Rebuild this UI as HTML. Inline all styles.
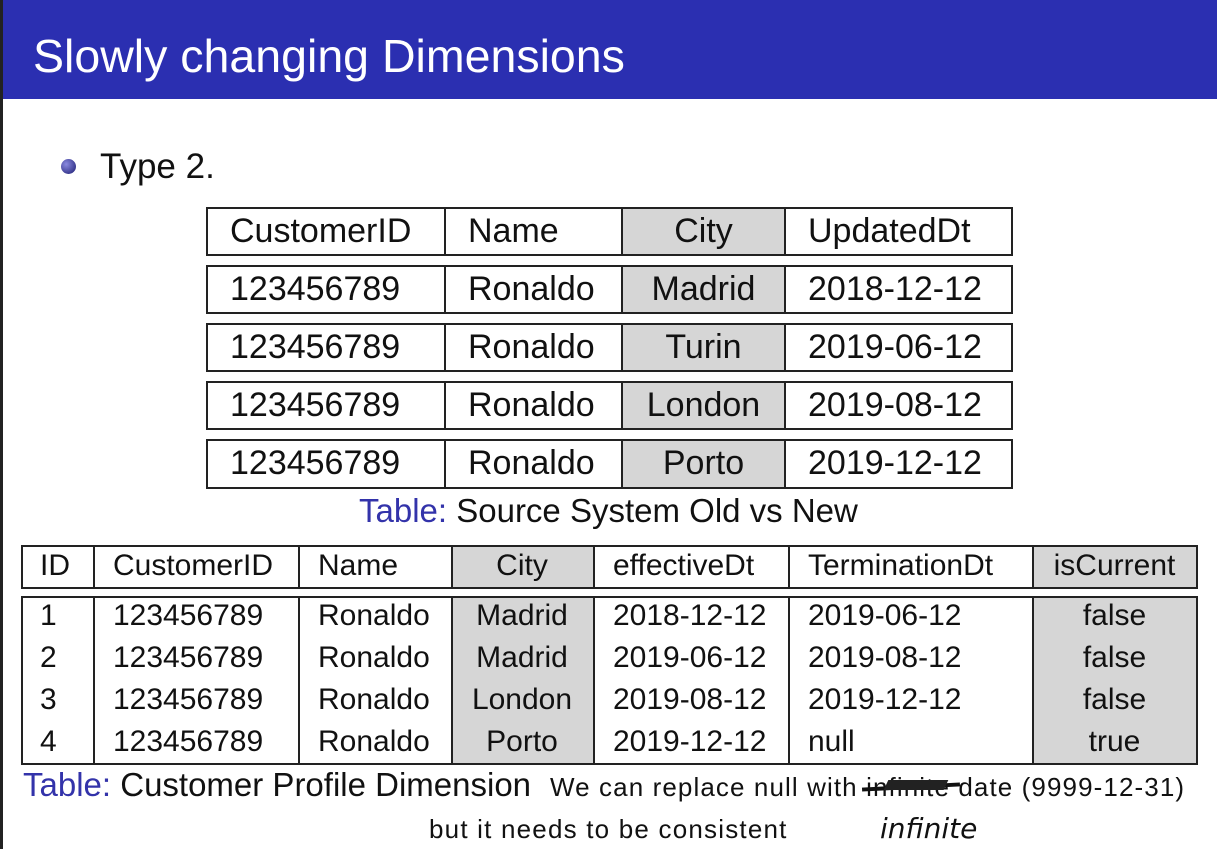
<!DOCTYPE html>
<html><head><meta charset="utf-8"><style>
body{margin:0;width:1217px;height:849px;background:#fff;position:relative;overflow:hidden;font-family:"Liberation Sans",sans-serif;color:#111}
.a{position:absolute;white-space:nowrap}
.bar{left:0;top:0;width:1217px;height:99px;background:#2b2fb1}
.edge{left:0;top:0;width:3px;height:849px;background:#222}
.box{position:absolute;border:2px solid #222;box-sizing:border-box;background:#fff}
.g{position:absolute;background:#d6d6d6}
.v{position:absolute;width:2px;background:#222}
.t1{position:absolute;font-size:34px;line-height:49px}
.t2{position:absolute;font-size:30px;line-height:44px}
</style></head><body>
<div class="a bar"></div>
<div class="a edge"></div>
<div class="a" style="left:33px;top:27px;font-size:46.5px;color:#fff;line-height:58px">Slowly changing Dimensions</div>
<div class="a" style="left:61px;top:159px;width:15px;height:15px;border-radius:50%;background:radial-gradient(circle at 35% 35%,#8a8ae0,#1a1a70)"></div>
<div class="a" style="left:100px;top:145px;font-size:35px;line-height:44px">Type 2.</div>

<script>
var rows=[["CustomerID","Name","City","UpdatedDt"],["123456789","Ronaldo","Madrid","2018-12-12"],["123456789","Ronaldo","Turin","2019-06-12"],["123456789","Ronaldo","London","2019-08-12"],["123456789","Ronaldo","Porto","2019-12-12"]];
var ys=[207,265,323,381,439];var h="";
rows.forEach(function(r,i){var y=ys[i],H=(i==4?50:49);
h+='<div class="box" style="left:206px;top:'+y+'px;width:807px;height:'+H+'px"></div>';
h+='<div class="g" style="left:622px;top:'+(y+2)+'px;width:162px;height:'+(H-4)+'px"></div>';
[444,621,784].forEach(function(x){h+='<div class="v" style="left:'+x+'px;top:'+y+'px;height:'+H+'px"></div>'});
h+='<div class="t1" style="left:230px;top:'+(y)+'px">'+r[0]+'</div>';
h+='<div class="t1" style="left:468px;top:'+(y)+'px">'+r[1]+'</div>';
h+='<div class="t1" style="left:623px;width:161px;text-align:center;top:'+(y)+'px">'+r[2]+'</div>';
h+='<div class="t1" style="left:808px;top:'+(y)+'px">'+r[3]+'</div>';});
document.write(h);
</script>
<div class="a" style="left:359px;top:491px;font-size:33px;line-height:40px"><span style="color:#3333aa">Table:</span> Source System Old vs New</div>

<script>
var cols=[21,93,298,451,593,788,1032,1197];
var hd=["ID","CustomerID","Name","City","effectiveDt","TerminationDt","isCurrent"];
var body=[["1","123456789","Ronaldo","Madrid","2018-12-12","2019-06-12","false"],["2","123456789","Ronaldo","Madrid","2019-06-12","2019-08-12","false"],["3","123456789","Ronaldo","London","2019-08-12","2019-12-12","false"],["4","123456789","Ronaldo","Porto","2019-12-12","null","true"]];
var h="";
function block(y,H){h+='<div class="box" style="left:21px;top:'+y+'px;width:1177px;height:'+H+'px"></div>';
h+='<div class="g" style="left:452px;top:'+(y+2)+'px;width:141px;height:'+(H-4)+'px"></div>';
h+='<div class="g" style="left:1033px;top:'+(y+2)+'px;width:163px;height:'+(H-4)+'px"></div>';
for(var i=1;i<7;i++)h+='<div class="v" style="left:'+cols[i]+'px;top:'+y+'px;height:'+H+'px"></div>';}
block(545,44);block(596,169);
function row(r,y){for(var i=0;i<7;i++){var c=(i==3||i==6);
if(c)h+='<div class="t2" style="left:'+cols[i]+'px;width:'+(cols[i+1]-cols[i])+'px;text-align:center;top:'+y+'px">'+r[i]+'</div>';
else h+='<div class="t2" style="left:'+(cols[i]+(i==0?19:20))+'px;top:'+y+'px">'+r[i]+'</div>';}}
row(hd,544);
body.forEach(function(r,i){row(r,594+42*i)});
document.write(h);
</script>
<div class="a" style="left:23px;top:765px;font-size:33px;line-height:40px"><span style="color:#3333aa">Table:</span> Customer Profile Dimension</div>
<div class="a" style="left:550px;top:770px;font-size:26px;line-height:34px;letter-spacing:1.1px">We can replace null with <span style="position:relative">infini<span style="position:absolute;left:-4px;top:13px;width:98px;height:4px;background:#111;transform:rotate(-3deg)"></span><span style="position:absolute;left:20px;top:8px;width:60px;height:10px;background:#222;transform:skewX(-25deg)"></span></span>te date (9999-12-31)</div>
<div class="a" style="left:429px;top:812px;font-size:26px;line-height:34px;letter-spacing:1.2px">but it needs to be consistent</div>
<div class="a" style="left:880px;top:812px;font-size:28px;line-height:34px;font-family:'DejaVu Sans',sans-serif;font-style:italic;font-weight:300">infinite</div>
</body></html>
